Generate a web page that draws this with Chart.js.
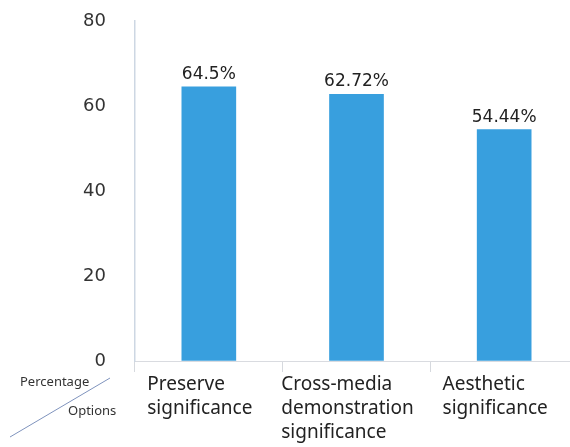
<!DOCTYPE html>
<html>
<head>
<meta charset="utf-8">
<script src="https://cdn.jsdelivr.net/npm/chart.js@4"></script>
<style>
  html, body { margin: 0; padding: 0; background: #fff; overflow: hidden; }
  #wrap { width: 578px; height: 447px; }
</style>
</head>
<body>
<div id="wrap"><canvas id="myChart"></canvas></div>
<script>
"use strict"

// DATA
const categories = [
    ['Preserve', 'significance'],
    ['Cross-media', 'demonstration', 'significance'],
    ['Aesthetic', 'significance']
];
const values = [64.5, 62.72, 54.44];
const valueLabels = ['64.5%', '62.72%', '54.44%'];
const yTicks = [0, 20, 40, 60, 80];

const barColor = '#389fde';
const numFamily = '"DejaVu Sans", sans-serif';
const catFont = '19px "Noto Sans", sans-serif';

// value labels above the bars
const valueLabelPlugin = {
    id: 'valueLabels',
    afterDatasetsDraw(chart) {
        const ctx = chart.ctx;
        const meta = chart.getDatasetMeta(0);
        ctx.save();
        ctx.font = '17px ' + numFamily;
        ctx.fillStyle = '#222';
        ctx.textAlign = 'center';
        ctx.textBaseline = 'alphabetic';
        meta.data.forEach((bar, i) => {
            ctx.fillText(valueLabels[i], bar.x, bar.y - 8);
        });
        ctx.restore();
    }
};

// category labels (left aligned blocks) and the corner header
const categoryPlugin = {
    id: 'categoryLabels',
    afterDraw(chart) {
        const ctx = chart.ctx;
        const x = chart.scales.x;
        ctx.save();
        ctx.font = catFont;
        ctx.fillStyle = '#222';
        ctx.textAlign = 'left';
        ctx.textBaseline = 'middle';
        categories.forEach((lines, i) => {
            const cx = x.getPixelForValue(i);
            const w = Math.max(...lines.map(l => ctx.measureText(l).width));
            const left = cx - w / 2 - 9;
            lines.forEach((l, j) => {
                ctx.fillText(l, left, x.top + 24 + j * 24);
            });
        });

        // corner header
        ctx.font = '13px "Noto Sans", sans-serif';
        ctx.fillStyle = '#333';
        ctx.textAlign = 'left';
        ctx.fillText('Percentage', 20, 382);
        ctx.fillText('Options', 68, 411);
        ctx.strokeStyle = '#7f93bd';
        ctx.lineWidth = 1;
        ctx.beginPath();
        ctx.moveTo(10, 437);
        ctx.lineTo(110, 378);
        ctx.stroke();
        ctx.restore();
    }
};

const data = {
    labels: categories.map(c => c.join(' ')),
    datasets: [{
        data: values,
        backgroundColor: barColor,
        borderWidth: 0,
        barThickness: 54
    }]
};

const config = {
    type: 'bar',
    data: data,
    options: {
        responsive: true,
        maintainAspectRatio: false,
        animation: false,
        layout: { padding: { top: 21, right: 0, bottom: 0, left: 0 } },
        plugins: {
            legend: { display: false },
            tooltip: { enabled: false }
        },
        scales: {
            x: {
                offset: true,
                grid: {
                    offset: true,
                    drawOnChartArea: false,
                    drawTicks: true,
                    tickLength: 11,
                    color: '#d6d9de'
                },
                border: { color: '#d9dbe0', width: 1 },
                ticks: { display: false },
                afterFit(scale) { scale.height = 86; }
            },
            y: {
                min: 0,
                max: 80,
                afterBuildTicks(scale) {
                    scale.ticks = yTicks.map(v => ({ value: v }));
                },
                // invisible tick marks keep the labels away from the axis line
                grid: {
                    drawOnChartArea: false,
                    drawTicks: true,
                    tickLength: 29,
                    color: 'rgba(0,0,0,0)'
                },
                border: { color: '#cdd7e3', width: 1.5 },
                ticks: {
                    padding: 0,
                    color: '#333',
                    font: { family: numFamily, size: 18 }
                },
                afterFit(scale) { scale.width = 135; }
            }
        }
    },
    plugins: [valueLabelPlugin, categoryPlugin]
};

const myChart = new Chart(document.getElementById('myChart'), config);
</script>
</body>
</html>
